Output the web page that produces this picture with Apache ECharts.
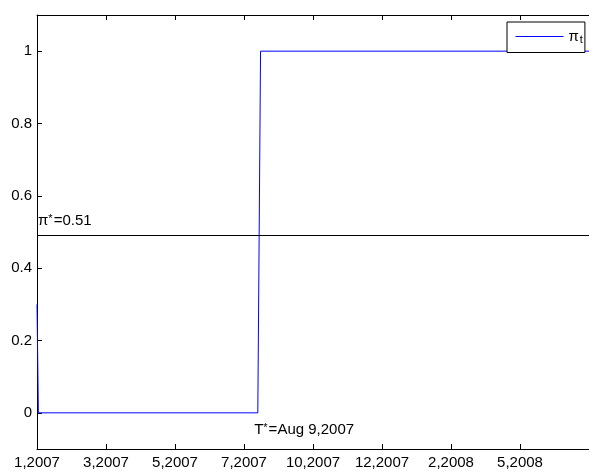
<!DOCTYPE html>
<html>
<head>
<meta charset="utf-8">
<script src="https://cdn.jsdelivr.net/npm/echarts@6/dist/echarts.min.js"></script>
<style>
html,body{margin:0;padding:0;background:#fff;}
#chart{width:589px;height:472px;}
</style>
</head>
<body>
<div id="chart"></div>
<script>
// x axis: trading-day index since start of sample
var xTickValues = [0, 50, 100, 150, 200, 250, 300, 350];
var xTickLabels = ['1,2007', '3,2007', '5,2007', '7,2007', '10,2007', '12,2007', '2,2008', '5,2008'];
var yTickValues = [0, 0.2, 0.4, 0.6, 0.8, 1];

// pi_t series (step path)
var piDays = [0, 1, 160, 162, 400];
var piValues = [0.3, 0, 0, 1, 1];

// threshold and switch date
var piStarLine = 0.49;
var piStarText = '0.51';
var tStarIndex = 161;
var tStarText = 'Aug 9,2007';

var FONT = "'Liberation Sans', Arial, Helvetica, sans-serif";

var piData = piDays.map(function (d, i) { return [d, piValues[i]]; });

var chart = echarts.init(document.getElementById('chart'), null, {renderer: 'canvas'});

var axisLine = {show: true, onZero: false, lineStyle: {color: '#000', width: 1}};

var option = {
  backgroundColor: '#fff',
  animation: false,
  textStyle: {fontFamily: FONT},
  grid: {left: 37, top: 15, width: 558, height: 434, containLabel: false},
  legend: {
    left: 507, top: 22,
    backgroundColor: '#fff',
    borderColor: '#000', borderWidth: 1,
    padding: [7, 2, 7, 8],
    itemWidth: 48, itemHeight: 14,
    itemStyle: {opacity: 0},
    lineStyle: {color: '#0000ff', width: 1, opacity: 1},
    data: ['pi_t'],
    formatter: function () { return '{a|π}{b|t}'; },
    textStyle: {
      fontFamily: FONT, color: '#000',
      rich: {
        a: {fontSize: 15, fontFamily: FONT, color: '#000'},
        b: {fontSize: 11, fontFamily: FONT, color: '#000', padding: [7, 0, 0, 1]}
      }
    }
  },
  xAxis: [{
    type: 'value', min: 0, max: 400, position: 'bottom',
    axisLine: axisLine,
    axisTick: {show: true, inside: true, length: 5, customValues: xTickValues, lineStyle: {color: '#000'}},
    axisLabel: {
      show: true, customValues: xTickValues, margin: 6,
      fontSize: 15, fontFamily: FONT, color: '#000',
      formatter: function (v) {
        var i = xTickValues.indexOf(v);
        return i >= 0 ? xTickLabels[i] : '';
      }
    },
    splitLine: {show: false}
  }, {
    type: 'value', min: 0, max: 400, position: 'top',
    axisLine: axisLine,
    axisTick: {show: true, inside: true, length: 5, customValues: xTickValues, lineStyle: {color: '#000'}},
    axisLabel: {show: false},
    splitLine: {show: false}
  }],
  yAxis: {
    type: 'value', min: -0.1, max: 1.1,
    axisLine: axisLine,
    axisTick: {show: true, inside: true, length: 5, customValues: yTickValues, lineStyle: {color: '#000'}},
    axisLabel: {
      show: true, customValues: yTickValues, margin: 5,
      fontSize: 15, fontFamily: FONT, color: '#000',
      formatter: function (v) { return String(Math.round(v * 10) / 10); }
    },
    splitLine: {show: false}
  },
  series: [{
    name: 'pi_t',
    type: 'line',
    data: piData,
    symbol: 'none',
    color: '#0000ff',
    lineStyle: {color: '#0000ff', width: 1},
    itemStyle: {color: '#0000ff'},
    z: 3,
    markLine: {
      silent: true,
      symbol: ['none', 'none'],
      label: {show: false},
      lineStyle: {color: '#000', width: 1, type: 'solid'},
      data: [{yAxis: piStarLine}]
    },
    markPoint: {
      silent: true,
      symbol: 'circle', symbolSize: 0,
      data: [{
        coord: [0, piStarLine],
        label: {
          show: true, position: [1, -15], align: 'left', verticalAlign: 'middle',
          formatter: '{m|π}{s|*}{m|=' + piStarText + '}',
          rich: {
            m: {fontSize: 15, fontFamily: FONT, color: '#000'},
            s: {fontSize: 11, fontFamily: FONT, color: '#000', verticalAlign: 'top', padding: [0, 1, 4, 0]}
          }
        }
      }, {
        coord: [tStarIndex, 0],
        label: {
          show: true, position: [-5, 17], align: 'left', verticalAlign: 'middle',
          formatter: '{m|T}{s|*}{m|=' + tStarText + '}',
          rich: {
            m: {fontSize: 15, fontFamily: FONT, color: '#000'},
            s: {fontSize: 11, fontFamily: FONT, color: '#000', verticalAlign: 'top', padding: [0, 1, 4, 0]}
          }
        }
      }]
    }
  }]
};

chart.setOption(option);
</script>
</body>
</html>
